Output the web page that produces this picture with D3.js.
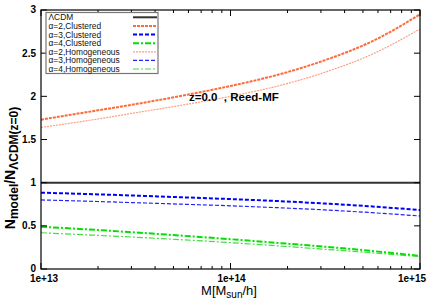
<!DOCTYPE html>
<html><head><meta charset="utf-8">
<script src="https://cdn.jsdelivr.net/npm/d3@7"></script>
<style>body{margin:0;background:#fff}svg{display:block}text{font-family:"Liberation Sans",Arial,sans-serif}</style>
</head><body>
<svg id="c" width="436" height="305"></svg>
<script>
const logMass = [13, 13.25, 13.5, 13.75, 14, 14.25, 14.5, 14.75, 15];
const lcdm      = [1, 1, 1, 1, 1, 1, 1, 1, 1];
const a2Clust   = [1.73, 1.82, 1.91, 2.01, 2.12, 2.25, 2.42, 2.64, 2.95];
const a3Clust   = [0.884, 0.868, 0.850, 0.830, 0.810, 0.787, 0.758, 0.724, 0.683];
const a4Clust   = [0.49, 0.458, 0.423, 0.385, 0.345, 0.302, 0.258, 0.208, 0.152];
const a2Homo    = [1.64, 1.72, 1.81, 1.90, 2.00, 2.12, 2.28, 2.49, 2.78];
const a3Homo    = [0.80, 0.785, 0.768, 0.750, 0.732, 0.710, 0.684, 0.652, 0.614];
const a4Homo    = [0.42, 0.395, 0.368, 0.338, 0.305, 0.268, 0.228, 0.187, 0.143];
const seriesNames = ["\u039BCDM","\u03B1=2,Clustered","\u03B1=3,Clustered","\u03B1=4,Clustered","\u03B1=2,Homogeneous","\u03B1=3,Homogeneous","\u03B1=4,Homogeneous"];
const xTickLabels = ["1e+13","1e+14","1e+15"];
const yTickValues = [0, 0.5, 1, 1.5, 2, 2.5, 3];

const styles = [
  {c:"#333333", w:2, d:null},
  {c:"#ff6a3a", w:2, d:"3,1"},
  {c:"#0000ff", w:2, d:"4,2"},
  {c:"#00e000", w:2, d:"6,2,2,2"},
  {c:"#ff9f80", w:1.2, d:"2,1"},
  {c:"#2222ff", w:1.2, d:"4,2"},
  {c:"#44dd44", w:1.2, d:"6,2,2,2"}
];
const allSeries = [lcdm, a2Clust, a3Clust, a4Clust, a2Homo, a3Homo, a4Homo];

const svg = d3.select("#c");
const L=41, R=420, T=10, B=269;
const x = d3.scaleLog().domain([1e13,1e15]).range([L,R]);
const y = d3.scaleLinear().domain([0,3]).range([B,T]);

svg.append("clipPath").attr("id","clp").append("rect").attr("x",L).attr("y",T).attr("width",R-L).attr("height",B-T);
const line = d3.line().x(d=>x(Math.pow(10,d[0]))).y(d=>y(d[1])).curve(d3.curveMonotoneX);
const g = svg.append("g").attr("clip-path","url(#clp)");
allSeries.forEach((s,i)=>{
  g.append("path").datum(logMass.map((m,j)=>[m,s[j]]))
   .attr("d",line).attr("fill","none").attr("stroke",styles[i].c)
   .attr("stroke-width",styles[i].w).attr("stroke-dasharray",styles[i].d);
});

const majors = [1e13,1e14,1e15];
const minors = [];
[1e13,1e14].forEach(b=>{for(let k=2;k<=9;k++) minors.push(b*k);});
const ax = svg.append("g");
function tickX(v,len){
  ax.append("line").attr("x1",x(v)).attr("x2",x(v)).attr("y1",B).attr("y2",B-len).attr("stroke","#000");
  ax.append("line").attr("x1",x(v)).attr("x2",x(v)).attr("y1",T).attr("y2",T+len).attr("stroke","#000");
}
majors.forEach(v=>tickX(v,6));
minors.forEach(v=>tickX(v,3));
yTickValues.forEach(v=>{
  ax.append("line").attr("x1",L).attr("x2",L+6).attr("y1",y(v)).attr("y2",y(v)).attr("stroke","#000");
  ax.append("line").attr("x1",R).attr("x2",R-6).attr("y1",y(v)).attr("y2",y(v)).attr("stroke","#000");
  ax.append("text").attr("x",36).attr("y",y(v)+3.4).attr("text-anchor","end")
    .attr("font-size",10).attr("font-weight","bold").text(String(v));
});
const xOff = [3, 1, -8];
majors.forEach((v,i)=>{
  ax.append("text").attr("x",x(v)+xOff[i]).attr("y",282).attr("text-anchor","middle")
    .attr("font-size",10).attr("font-weight","bold").text(xTickLabels[i]);
});
svg.append("rect").attr("x",L).attr("y",T).attr("width",R-L).attr("height",B-T)
  .attr("fill","none").attr("stroke","#000").attr("stroke-width",1.2);

const lg = svg.append("g");
lg.append("rect").attr("x",46).attr("y",12.5).attr("width",112).attr("height",61)
  .attr("fill","#fff").attr("stroke","#777").attr("stroke-width",1.2);
seriesNames.forEach((n,i)=>{
  const yy = 17.3 + i*8.62;
  lg.append("text").attr("x",48.5).attr("y",yy+3).attr("font-size",8.4).attr("fill","#111").text(n);
  lg.append("line").attr("x1",133).attr("x2",157).attr("y1",yy).attr("y2",yy)
    .attr("stroke",styles[i].c).attr("stroke-width",styles[i].w).attr("stroke-dasharray",styles[i].d);
});

svg.append("text").attr("x",189).attr("y",101).attr("font-size",11.5).attr("font-weight","bold")
  .style("white-space","pre").text("z=0.0  , Reed-MF");

const xl = svg.append("text").attr("x",229).attr("y",295).attr("text-anchor","middle").attr("font-size",13);
xl.append("tspan").text("M[M");
xl.append("tspan").attr("font-size",10).attr("dy",3).text("sun");
xl.append("tspan").attr("dy",-3).text("/h]");

const yl = svg.append("text").attr("transform","translate(15,168) rotate(-90)").attr("text-anchor","middle")
  .attr("font-size",14).attr("font-weight","bold");
yl.append("tspan").text("N");
yl.append("tspan").attr("font-size",12).attr("dy",3).text("model");
yl.append("tspan").attr("dy",-3).text("/N");
yl.append("tspan").attr("font-size",12).attr("dy",3).text("\u039BCDM(z=0)");
</script>
</body></html>
